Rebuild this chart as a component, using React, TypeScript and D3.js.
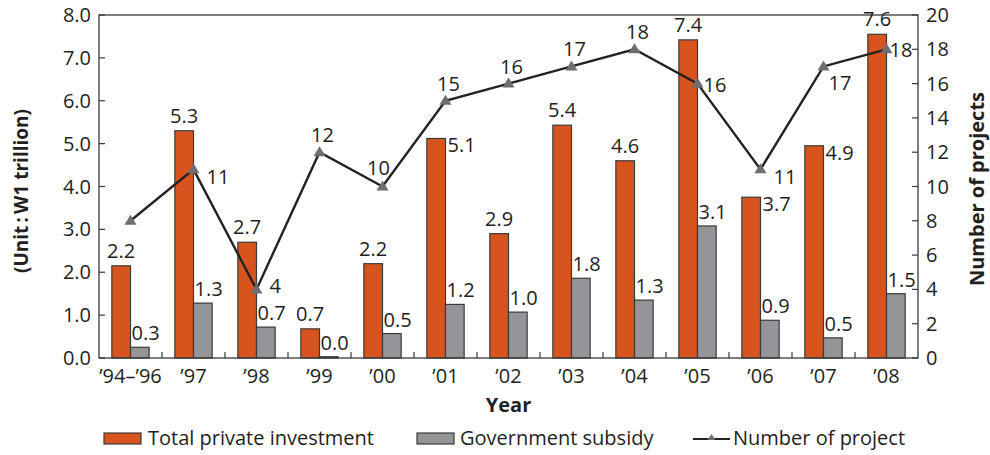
import React from "react";
import * as d3 from "d3";

const categories = ["\u201994\u2013\u201996", "\u201997", "\u201998", "\u201999", "\u201900", "\u201901", "\u201902", "\u201903", "\u201904", "\u201905", "\u201906", "\u201907", "\u201908"];
const privateInvestment = [2.15, 5.3, 2.7, 0.68, 2.2, 5.12, 2.9, 5.43, 4.6, 7.42, 3.75, 4.95, 7.55];
const privateLabels = ["2.2", "5.3", "2.7", "0.7", "2.2", "5.1", "2.9", "5.4", "4.6", "7.4", "3.7", "4.9", "7.6"];
const subsidy = [0.25, 1.28, 0.72, 0.03, 0.57, 1.25, 1.07, 1.86, 1.35, 3.08, 0.88, 0.47, 1.5];
const subsidyLabels = ["0.3", "1.3", "0.7", "0.0", "0.5", "1.2", "1.0", "1.8", "1.3", "3.1", "0.9", "0.5", "1.5"];
const projects = [8, 11, 4, 12, 10, 15, 16, 17, 18, 16, 11, 17, 18];
const projectLabelShown = [false, true, true, true, true, true, true, true, true, true, true, true, true];
// label placement keys
const privatePlacement = ["top", "top", "top", "top", "top", "right", "top", "top", "top", "top", "right", "right", "top"];
const projectPlacement = ["none", "rightLow", "rightFar", "top", "topLeft", "top", "top", "top", "top", "right", "rightLow", "rightLower", "rightNear"];
const leftTicks = [0, 1, 2, 3, 4, 5, 6, 7, 8];
const rightTicks = [0, 2, 4, 6, 8, 10, 12, 14, 16, 18, 20];

const FONT = "'Open Sans', 'DejaVu Sans', sans-serif";
const TXT = "#231f20";
const ORANGE = "#d8541e";
const GRAY = "#939598";

export default function App() {
  const W = 990, H = 455;
  const left = 99, right = 918, top = 15, bottom = 358;
  const x = d3.scaleBand<string>().domain(categories).range([left, right]).padding(0);
  const yL = d3.scaleLinear().domain([0, 8]).range([bottom, top]);
  const yR = d3.scaleLinear().domain([0, 20]).range([bottom, top]);
  const bw = x.bandwidth() * 0.296;
  const cx = (c: string) => (x(c) as number) + x.bandwidth() / 2;
  const line = d3.line<number>().x((_, i) => cx(categories[i])).y((d) => yR(d));
  const fs = 20;

  const projOffset = (p: string) => {
    switch (p) {
      case "rightLow": return { dx: 13, dy: 15, anchor: "start" };
      case "rightFar": return { dx: 13, dy: 4, anchor: "start" };
      case "right": return { dx: 6, dy: 8, anchor: "start" };
      case "rightNear": return { dx: 3, dy: 8, anchor: "start" };
      case "top": return { dx: 3, dy: -10, anchor: "middle" };
      case "topLeft": return { dx: -4, dy: -12, anchor: "middle" };
      case "rightLower": return { dx: 5, dy: 24, anchor: "start" };
      default: return { dx: 0, dy: 0, anchor: "start" };
    }
  };

  return (
    <svg width={W} height={H} style={{ position: "absolute", left: 0, top: 0, background: "#fff" }} fontFamily={FONT}>
      <rect x={0} y={0} width={W} height={H} fill="#fff" />
      {/* bars */}
      {categories.map((c, i) => {
        const x0 = x(c) as number;
        const bx = x0 + x.bandwidth() / 2 - bw;
        return (
          <g key={c}>
            <rect x={bx} y={yL(privateInvestment[i])} width={bw} height={bottom - yL(privateInvestment[i])} fill={ORANGE} stroke="#3a3a3a" strokeWidth={1.2} />
            <rect x={bx + bw} y={yL(subsidy[i])} width={bw} height={bottom - yL(subsidy[i])} fill={GRAY} stroke="#3a3a3a" strokeWidth={1.2} />
          </g>
        );
      })}
      {/* frame */}
      <rect x={left} y={top} width={right - left} height={bottom - top} fill="none" stroke="#3a3a3a" strokeWidth={1.3} />
      {/* left ticks */}
      {leftTicks.map((t) => (
        <g key={"l" + t}>
          <line x1={left} x2={left + 6} y1={yL(t)} y2={yL(t)} stroke="#3a3a3a" strokeWidth={1.2} />
          <text x={left - 8} y={yL(t)} dy="0.35em" textAnchor="end" fontSize={fs} fill={TXT}>{d3.format(".1f")(t)}</text>
        </g>
      ))}
      {rightTicks.map((t) => (
        <g key={"r" + t}>
          <line x1={right - 6} x2={right} y1={yR(t)} y2={yR(t)} stroke="#3a3a3a" strokeWidth={1.2} />
          <text x={right + 8} y={yR(t)} dy="0.35em" textAnchor="start" fontSize={fs} fill={TXT}>{t}</text>
        </g>
      ))}
      {categories.map((c, i) => (
        <g key={"x" + c}>
          {i > 0 && <line x1={x(c) as number} x2={x(c) as number} y1={bottom} y2={bottom - 6} stroke="#3a3a3a" strokeWidth={1.2} />}
          <text x={cx(c)} y={bottom + 25} textAnchor="middle" fontSize={fs} fill={TXT}>{c}</text>
        </g>
      ))}
      {/* line */}
      <path d={line(projects) || ""} fill="none" stroke="#222" strokeWidth={2.4} />
      {projects.map((v, i) => {
        const px = cx(categories[i]);
        const py = yR(v);
        return <path key={"m" + i} d={`M${px},${py - 6}L${px + 6},${py + 4}L${px - 6},${py + 4}Z`} fill="#6d6e71" />;
      })}
      {/* bar labels */}
      {categories.map((c, i) => {
        const x0 = x(c) as number;
        const bx = x0 + x.bandwidth() / 2 - bw;
        const yt = yL(privateInvestment[i]);
        const pl = privatePlacement[i];
        return (
          <g key={"lab" + c}>
            {pl === "top" ? (
              <text x={bx + bw / 2} y={yt - 8} textAnchor="middle" fontSize={fs} fill={TXT}>{privateLabels[i]}</text>
            ) : (
              <text x={bx + bw + 2} y={yt + 14} textAnchor="start" fontSize={fs} fill={TXT}>{privateLabels[i]}</text>
            )}
            <text x={bx + bw + 1} y={yL(subsidy[i]) - 7} textAnchor="start" fontSize={fs} fill={TXT}>{subsidyLabels[i]}</text>
          </g>
        );
      })}
      {projects.map((v, i) => {
        if (!projectLabelShown[i]) return null;
        const o = projOffset(projectPlacement[i]);
        return (
          <text key={"pl" + i} x={cx(categories[i]) + o.dx} y={yR(v) + o.dy} textAnchor={o.anchor as any} fontSize={fs} fill={TXT}>{v}</text>
        );
      })}
      {/* axis titles */}
      <text x={(left + right) / 2} y={412} textAnchor="middle" fontSize={20} fontWeight="bold" fill={TXT}>Year</text>
      <text transform={`translate(28,191) rotate(-90)`} textAnchor="middle" fontSize={19} fontWeight="bold" fill={TXT}>(Unit{"\u2009:\u2009"}W1 trillion)</text>
      <text transform={`translate(984,189) rotate(-90)`} textAnchor="middle" fontSize={20} fontWeight="bold" fill={TXT}>Number of projects</text>
      {/* legend */}
      <g>
        <rect x={104} y={433} width={37} height={11} fill={ORANGE} stroke="#3a3a3a" strokeWidth={1.2} />
        <text x={148} y={445} fontSize={20} fill={TXT}>Total private investment</text>
        <rect x={417} y={433} width={37} height={11} fill={GRAY} stroke="#3a3a3a" strokeWidth={1.2} />
        <text x={460} y={445} fontSize={20} fill={TXT}>Government subsidy</text>
        <line x1={693} x2={730} y1={439} y2={439} stroke="#222" strokeWidth={2.2} />
        <path d="M711.5,434L715.5,440L707.5,440Z" fill="#6d6e71" />
        <text x={733} y={445} fontSize={20} fill={TXT}>Number of project</text>
      </g>
    </svg>
  );
}
